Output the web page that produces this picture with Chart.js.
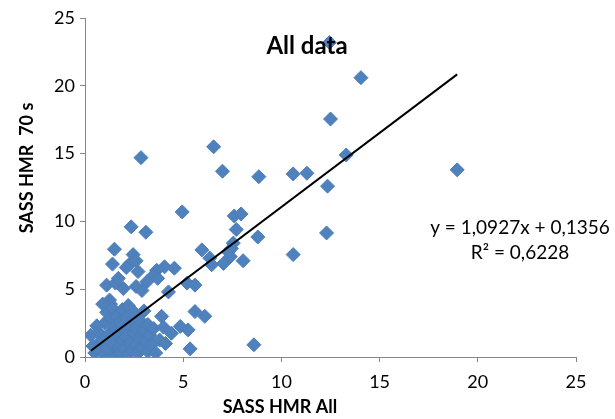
<!DOCTYPE html>
<html>
<head>
<meta charset="utf-8">
<script src="https://cdn.jsdelivr.net/npm/chart.js@4/dist/chart.umd.min.js"></script>
<style>
  html, body { margin: 0; padding: 0; background: #fff; }
  canvas { display: block; }
</style>
</head>
<body>
<canvas id="myChart" width="615" height="419"></canvas>
<script>
// SASS HMR All (x) vs SASS HMR 70 s (y)
const xValues = [
  12.45, 14.05, 12.5, 13.3, 6.55, 2.85, 18.95, 7.0, 8.85, 10.6, 11.3, 12.35,
  4.95, 7.6, 7.95, 7.7, 8.8, 12.3, 7.55, 7.45, 7.3, 6.35, 6.45, 7.05, 7.4, 8.05,
  10.6, 5.95, 6.1, 8.6, 2.35, 3.1, 1.5, 2.45, 1.4, 2.3, 3.65, 4.05, 4.55, 3.5,
  3.15, 1.1, 1.95, 1.55, 4.25, 5.2, 5.6, 1.25, 5.6, 4.85, 5.25, 4.4, 5.35, 3.8,
  4.1, 0.3, 2.7, 2.6, 2.1, 1.7, 2.6, 2.9, 3.7, 1.3,
  0.5, 0.6, 0.7, 0.8, 0.9, 1.0, 1.0, 1.1, 1.2, 1.2, 1.3, 1.4, 1.4, 1.5, 1.5, 1.6,
  1.6, 1.7, 1.7, 1.8, 1.8, 1.9, 1.9, 2.0, 2.0, 2.1, 2.1, 2.2, 2.2, 2.3, 2.3, 2.4,
  2.5, 2.5, 2.6, 2.6, 2.7, 2.8, 2.8, 2.9, 3.0, 3.0, 3.1, 3.2, 3.2, 3.3, 3.4, 3.5,
  0.9, 0.4, 0.6, 1.1, 1.3, 3.6, 4.0, 3.9
];
const yValues = [
  23.2, 20.6, 17.55, 14.9, 15.5, 14.7, 13.8, 13.7, 13.3, 13.5, 13.55, 12.6,
  10.7, 10.4, 10.55, 9.4, 8.85, 9.15, 8.4, 8.0, 7.75, 7.3, 6.8, 6.9, 7.4, 7.1,
  7.55, 7.9, 3.0, 0.9, 9.6, 9.2, 7.95, 7.55, 6.85, 6.9, 6.4, 6.65, 6.55, 6.05,
  5.55, 5.3, 5.05, 5.45, 4.8, 5.45, 5.3, 4.2, 3.35, 2.25, 2.0, 1.75, 0.6, 1.25,
  1.0, 1.6, 6.3, 7.1, 6.6, 5.8, 5.2, 4.9, 5.8, 3.9,
  0.3, 0.9, 1.8, 0.5, 1.2, 2.5, 0.2, 3.3, 0.8, 1.7, 2.9, 0.4, 3.6, 1.3, 2.2, 0.1,
  3.0, 0.7, 1.8, 2.6, 0.3, 1.2, 3.5, 0.6, 2.0, 1.5, 2.9, 0.2, 3.8, 1.0, 2.4, 0.5,
  1.7, 3.3, 0.9, 2.1, 0.3, 1.4, 2.7, 0.7, 1.9, 3.4, 1.1, 0.4, 2.4, 1.6, 0.9, 2.1,
  3.9, 0.8, 2.3, 0.6, 1.1, 0.3, 2.2, 3.0
];
const tickValues = [0, 5, 10, 15, 20, 25];

// linear trendline as given on the chart
const slope = 1.0927;
const intercept = 0.1356;
const eqText = ["y = 1,0927x + 0,1356", "R\u00b2 = 0,6228"];

const points = xValues.map((x, i) => ({x: x, y: yValues[i]}));
const xMin = Math.min(...xValues);
const xMax = Math.max(...xValues);
const trend = [
  {x: xMin, y: slope * xMin + intercept},
  {x: xMax, y: slope * xMax + intercept}
];

const FONT = "Lato, 'Open Sans', sans-serif";

// title, equation and axis titles drawn where Excel put them
const labelsPlugin = {
  id: "labels",
  afterDraw(chart) {
    const ctx = chart.ctx;
    ctx.save();
    ctx.fillStyle = "#000";
    ctx.textAlign = "center";
    ctx.textBaseline = "middle";

    ctx.font = "bold 24px " + FONT;
    ctx.fillText("All data", 307, 46);

    ctx.font = "19px " + FONT;
    ctx.fillText(eqText[0], 520, 228);
    ctx.fillText(eqText[1], 520, 253);

    ctx.font = "bold 18px " + FONT;
    ctx.fillText("SASS HMR All", 280, 407);

    ctx.translate(27, 168);
    ctx.rotate(-Math.PI / 2);
    ctx.fillText("SASS HMR  70 s", 0, 0);
    ctx.restore();
  }
};

new Chart("myChart", {
  type: "scatter",
  data: {
    datasets: [{
      data: trend,
      type: "line",
      showLine: true,
      borderColor: "#000",
      borderWidth: 2,
      pointRadius: 0,
      fill: false,
      order: 0
    }, {
      data: points,
      pointStyle: "rectRot",
      pointRadius: 7,
      pointHoverRadius: 7,
      backgroundColor: "#4F81BD",
      borderColor: "#4A7EBB",
      borderWidth: 1,
      order: 1
    }]
  },
  plugins: [labelsPlugin],
  options: {
    responsive: false,
    animation: false,
    devicePixelRatio: 1,
    layout: {padding: {top: 18, right: 39, left: 0, bottom: 0}},
    plugins: {
      legend: {display: false},
      tooltip: {enabled: false}
    },
    scales: {
      x: {
        type: "linear",
        min: 0,
        max: 25,
        afterBuildTicks: (s) => { s.ticks = tickValues.map(v => ({value: v})); },
        afterFit: (s) => { s.height = 62; },
        grid: {drawOnChartArea: false, drawTicks: true, tickLength: 5, color: "#868686"},
        border: {color: "#868686", width: 1},
        ticks: {color: "#000", font: {family: FONT, size: 18}, padding: 9}
      },
      y: {
        type: "linear",
        min: 0,
        max: 25,
        afterBuildTicks: (s) => { s.ticks = tickValues.map(v => ({value: v})); },
        afterFit: (s) => { s.width = 85; },
        grid: {drawOnChartArea: false, drawTicks: true, tickLength: 5, color: "#868686"},
        border: {color: "#868686", width: 1},
        ticks: {color: "#000", font: {family: FONT, size: 18}, padding: 5}
      }
    }
  }
});
</script>
</body>
</html>
